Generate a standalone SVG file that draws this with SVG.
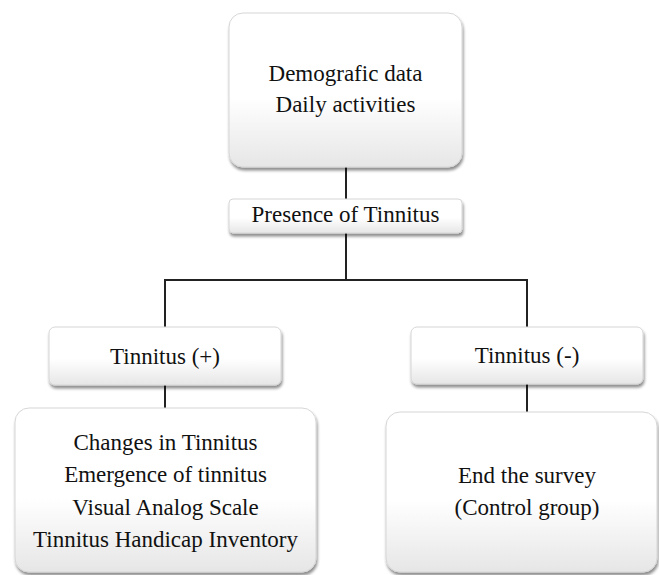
<svg xmlns="http://www.w3.org/2000/svg" width="659" height="575" viewBox="0 0 659 575">
<defs>
<linearGradient id="g" x1="0" y1="0" x2="0" y2="1">
<stop offset="0" stop-color="#ffffff"/>
<stop offset="0.55" stop-color="#ffffff"/>
<stop offset="1" stop-color="#e6e6e6"/>
</linearGradient>
<filter id="sh" x="-10%" y="-10%" width="125%" height="130%">
<feGaussianBlur in="SourceAlpha" stdDeviation="1.5"/>
<feOffset dx="1" dy="3" result="o"/>
<feComponentTransfer><feFuncA type="linear" slope="0.45"/></feComponentTransfer>
<feMerge><feMergeNode/><feMergeNode in="SourceGraphic"/></feMerge>
</filter>
</defs>
<style>
.box{fill:url(#g);stroke:#d6d6d6;stroke-width:1;filter:url(#sh)}
.t{font-family:'Liberation Serif','DejaVu Serif','Times New Roman',Times,serif;font-size:23px;fill:#111;text-anchor:middle}
.c{stroke:#222;stroke-width:2;fill:none}
</style>
<rect width="659" height="575" fill="#fff"/>
<g id="connectors">
<path class="c" d="M346 167V199"/>
<path class="c" d="M346 233V280M165 280H527M165 279V327M527 279V327"/>
<path class="c" d="M165 385V408"/>
<path class="c" d="M527 384V412"/>
</g>
<g id="demographic">
<rect class="box" x="229" y="13" width="233" height="154" rx="14"/>
<text class="t" font-family="Liberation Serif, serif" x="345.5" y="81">Demografic data</text>
<text class="t" font-family="Liberation Serif, serif" x="345.5" y="112">Daily activities</text>
</g>
<g id="presence">
<rect class="box" x="229" y="199" width="233" height="34" rx="4"/>
<text class="t" x="345.5" y="222">Presence of Tinnitus</text>
</g>
<g id="tinnitus-pos">
<rect class="box" x="49" y="327" width="232" height="58" rx="6"/>
<text class="t" x="165" y="364">Tinnitus (+)</text>
</g>
<g id="tinnitus-neg">
<rect class="box" x="411" y="327" width="232" height="57" rx="6"/>
<text class="t" x="527" y="363">Tinnitus (-)</text>
</g>
<g id="tinnitus-details">
<rect class="box" x="15" y="408" width="301" height="164" rx="14"/>
<text class="t" x="165.5" y="450">Changes in Tinnitus</text>
<text class="t" x="165.5" y="482">Emergence of tinnitus</text>
<text class="t" x="165.5" y="515">Visual Analog Scale</text>
<text class="t" x="165.5" y="547">Tinnitus Handicap Inventory</text>
</g>
<g id="end-survey">
<rect class="box" x="386" y="412" width="271" height="160" rx="14"/>
<text class="t" x="527" y="483">End the survey</text>
<text class="t" x="527" y="515">(Control group)</text>
</g>
</svg>
